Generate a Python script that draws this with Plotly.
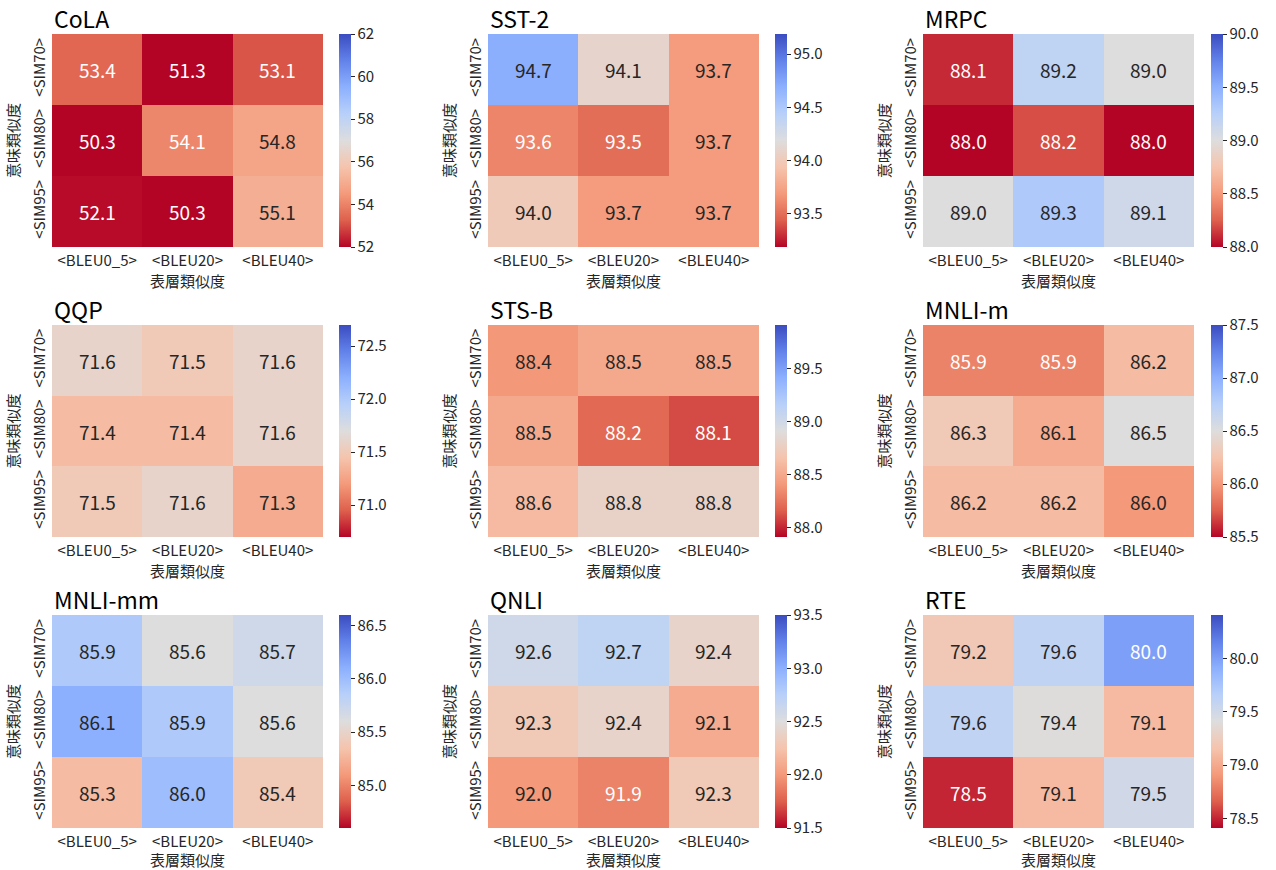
import plotly.graph_objects as go

# ---------------- data ----------------
tasks = ["CoLA", "SST-2", "MRPC", "QQP", "STS-B", "MNLI-m", "MNLI-mm", "QNLI", "RTE"]
x_labels = ["<BLEU0_5>", "<BLEU20>", "<BLEU40>"]
y_labels = ["<SIM70>", "<SIM80>", "<SIM95>"]
x_title = "表層類似度"
y_title = "意味類似度"

cola = [[53.4, 51.3, 53.1], [50.3, 54.1, 54.8], [52.1, 50.3, 55.1]]
sst2 = [[94.7, 94.1, 93.7], [93.6, 93.5, 93.7], [94.0, 93.7, 93.7]]
mrpc = [[88.1, 89.2, 89.0], [88.0, 88.2, 88.0], [89.0, 89.3, 89.1]]
qqp = [[71.6, 71.5, 71.6], [71.4, 71.4, 71.6], [71.5, 71.6, 71.3]]
stsb = [[88.4, 88.5, 88.5], [88.5, 88.2, 88.1], [88.6, 88.8, 88.8]]
mnli_m = [[85.9, 85.9, 86.2], [86.3, 86.1, 86.5], [86.2, 86.2, 86.0]]
mnli_mm = [[85.9, 85.6, 85.7], [86.1, 85.9, 85.6], [85.3, 86.0, 85.4]]
qnli = [[92.6, 92.7, 92.4], [92.3, 92.4, 92.1], [92.0, 91.9, 92.3]]
rte = [[79.2, 79.6, 80.0], [79.6, 79.4, 79.1], [78.5, 79.1, 79.5]]
values = [cola, sst2, mrpc, qqp, stsb, mnli_m, mnli_mm, qnli, rte]

# colour-scale limits
zmins = [52.0, 93.19, 88.0, 70.70, 87.91, 85.5, 84.60, 91.5, 78.41]
zmaxs = [62.0, 95.19, 90.0, 72.70, 89.91, 87.5, 86.60, 93.5, 80.41]
dticks = [2, 0.5, 0.5, 0.5, 0.5, 0.5, 0.5, 0.5, 0.5]

# ---------------- colours (coolwarm reversed) ----------------
cw = [(0.0, (59, 76, 192)), (0.125, (98, 130, 234)), (0.25, (141, 176, 254)),
      (0.375, (184, 208, 249)), (0.5, (221, 221, 221)), (0.625, (245, 196, 173)),
      (0.75, (244, 154, 123)), (0.875, (222, 96, 77)), (1.0, (180, 4, 38))]
cw_r = [(round(1 - p, 3), c) for p, c in reversed(cw)]
colorscale = [[p, "rgb(%d,%d,%d)" % c] for p, c in cw_r]


def interp(t):
    t = min(max(t, 0.0), 1.0)
    for (p0, c0), (p1, c1) in zip(cw_r[:-1], cw_r[1:]):
        if p0 <= t <= p1:
            f = 0 if p1 == p0 else (t - p0) / (p1 - p0)
            return tuple(c0[i] + f * (c1[i] - c0[i]) for i in range(3))
    return cw_r[-1][1]


def lum(c):
    def lin(v):
        v = v / 255.0
        return v / 12.92 if v <= 0.03928 else ((v + 0.055) / 1.055) ** 2.4
    r, g, b = (lin(v) for v in c)
    return 0.2126 * r + 0.7152 * g + 0.0722 * b


# ---------------- layout geometry ----------------
W, H = 1276, 870
col_x = [(52, 323), (488, 759), (923, 1194)]
cbar_x = [339, 775, 1211]
row_y = [(34, 247), (325, 537), (615, 828)]

FONT = "Noto Sans CJK JP"
TXT = "#262626"

fig = go.Figure()
annotations = []
for k, task in enumerate(tasks):
    r, c = divmod(k, 3)
    ax = "" if k == 0 else str(k + 1)
    z = values[k]
    x0, x1 = col_x[c]
    y0, y1 = row_y[r]
    fig.add_trace(go.Heatmap(
        z=z, x=x_labels, y=y_labels,
        zmin=zmins[k], zmax=zmaxs[k], colorscale=colorscale,
        xaxis="x" + ax, yaxis="y" + ax, hoverinfo="skip",
        colorbar=dict(
            x=cbar_x[c] / W, xanchor="left", xpad=0,
            y=1 - (y0 + y1) / 2 / H, yanchor="middle",
            len=(y1 - y0), lenmode="pixels", ypad=0,
            thickness=12, outlinewidth=0,
            ticks="outside", ticklen=4, tickcolor=TXT,
            dtick=dticks[k], tickformat="d" if dticks[k] >= 1 else ".1f",
            tickfont=dict(family=FONT, size=15, color=TXT),
        ),
    ))
    fig.update_layout(**{
        "xaxis" + ax: dict(domain=[x0 / W, x1 / W], anchor="y" + ax,
                           automargin=False, ticklabelstandoff=3,
                           showgrid=False, zeroline=False, showline=False,
                           ticks="", tickfont=dict(family=FONT, size=15, color=TXT),
                           title=dict(text=x_title,
                                      font=dict(family=FONT, size=15, color=TXT),
                                      standoff=3)),
        "yaxis" + ax: dict(domain=[1 - y1 / H, 1 - y0 / H], anchor="x" + ax,
                           automargin=False, autorange="reversed",
                           ticklabelstandoff=3,
                           showgrid=False, zeroline=False, showline=False,
                           ticks="", tickangle=-90,
                           tickfont=dict(family=FONT, size=15, color=TXT),
                           title=dict(text=y_title,
                                      font=dict(family=FONT, size=15, color=TXT),
                                      standoff=4)),
    })
    for i, yl in enumerate(y_labels):
        for j, xl in enumerate(x_labels):
            v = z[i][j]
            t = (v - zmins[k]) / (zmaxs[k] - zmins[k])
            col = TXT if lum(interp(t)) > 0.408 else "white"
            annotations.append(dict(x=xl, y=yl, xref="x" + ax, yref="y" + ax,
                                    text="%.1f" % v, showarrow=False,
                                    font=dict(family=FONT, size=19, color=col)))
    annotations.append(dict(x=x0 / W, y=1 - y0 / H, xref="paper", yref="paper",
                            xanchor="left", yanchor="bottom", text=task,
                            showarrow=False, yshift=-3,
                            font=dict(family=FONT, size=23, color="black")))

fig.update_layout(width=W, height=H, margin=dict(l=0, r=0, t=0, b=0),
                  paper_bgcolor="white", plot_bgcolor="white",
                  annotations=annotations, font=dict(family=FONT))
fig.write_html("out.html", config={"displayModeBar": False},
               post_script="document.body.style.margin='0';document.body.style.overflow='hidden';")
